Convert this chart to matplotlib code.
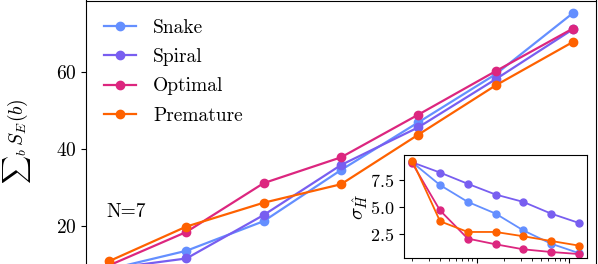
import matplotlib
matplotlib.use("Agg")
import matplotlib.pyplot as plt

plt.rcParams['font.family'] = 'serif'
plt.rcParams['font.serif'] = ['cmr10']
plt.rcParams['mathtext.fontset'] = 'cm'
plt.rcParams['axes.formatter.use_mathtext'] = True

# main panel data
steps = [1, 2, 3, 4, 5, 6, 7]
snake = [8.7, 13.5, 21.2, 34.5, 46.9, 59.4, 75.3]
spiral = [8.85, 11.5, 22.8, 35.8, 45.6, 58.1, 71.1]
optimal = [9.7, 18.4, 31.1, 37.8, 48.9, 60.2, 71.3]
premature = [10.8, 19.8, 26.0, 30.8, 43.7, 56.5, 67.8]

# inset data
inset_x = [2, 4, 8, 16, 32, 64, 128]
snake_sig = [9.15, 7.03, 5.46, 4.37, 2.8, 1.56, 0.68]
spiral_sig = [9.15, 8.2, 7.15, 6.15, 5.46, 4.37, 3.5]
optimal_sig = [9.06, 4.66, 2.03, 1.5, 1.03, 0.78, 0.59]
premature_sig = [9.3, 3.65, 2.65, 2.65, 2.25, 1.81, 1.38]

labels = ['Snake', 'Spiral', 'Optimal', 'Premature']
colors = ['#648FFF', '#785EF0', '#DC267F', '#FE6100']

fig = plt.figure(figsize=(5.98, 2.64), dpi=100)
W, H = 598, 264
ax = fig.add_axes([86 / W, (H - 281.9) / H, (596 - 86) / W, (281.9 - 0.5) / H])
for ys, lab, c in zip([snake, spiral, optimal, premature], labels, colors):
    ax.plot(steps, ys, '-o', color=c, lw=1.6, ms=6, label=lab)
ax.set_xlim(0.7, 7.3)
ax.set_ylim(5.4, 78.6)
ax.set_yticks([20, 40, 60])
ax.set_xticks(steps)
ax.set_xticklabels([])
ax.tick_params(labelsize=14)
ax.set_ylabel(r'${\sum}_b\, S_E(b)$', fontsize=14)
ax.yaxis.set_label_coords(-0.104, 0.5)
ax.text(0.97, 23.6, 'N=7', fontsize=14, va='center')
ax.legend(loc='upper left', frameon=False, fontsize=14, handlelength=1.6,
          handletextpad=0.9, labelspacing=0.58, borderaxespad=0.55)

ins = fig.add_axes([404 / W, (H - 258.3) / H, (587 - 404) / W, (258.3 - 155) / H])
for ys, c in zip([snake_sig, spiral_sig, optimal_sig, premature_sig], colors):
    ins.plot(inset_x, ys, '-o', color=c, lw=1.3, ms=5)
ins.set_xscale('log')
ins.set_ylim(0.19, 9.84)
ins.set_yticks([2.5, 5.0, 7.5])
ins.tick_params(labelsize=13)
ins.set_ylabel(r'$\sigma_{\hat{H}}$', fontsize=15, labelpad=0)

fig.savefig('out.png', dpi=100)
